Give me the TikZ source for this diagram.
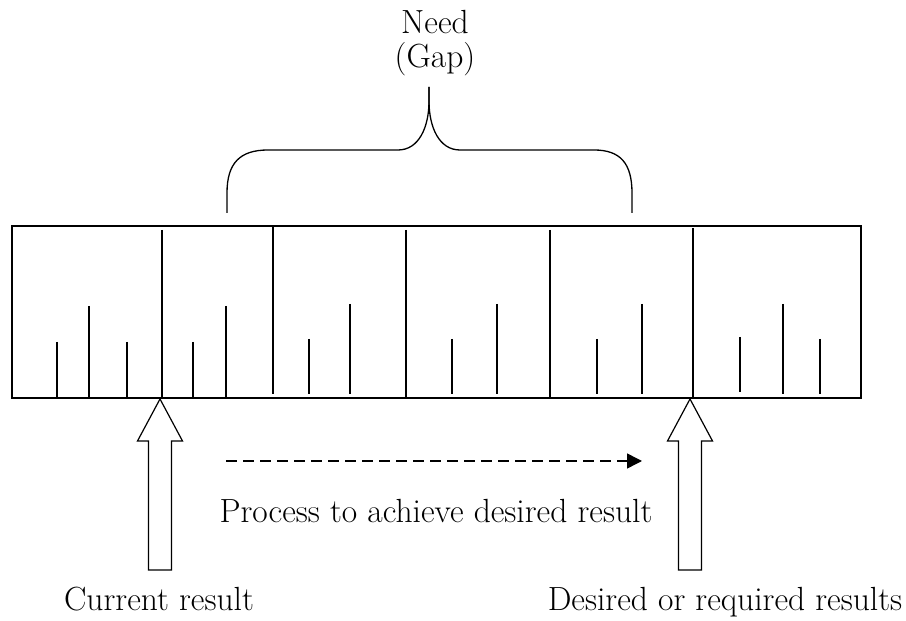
\documentclass[tikz,border=0pt]{standalone}
\usetikzlibrary{arrows.meta}
\begin{document}
\begin{tikzpicture}[x=1pt,y=1pt,
  lbl/.style={font=\fontsize{33.5}{36}\selectfont, inner sep=0pt, anchor=base},
  frame/.style={line width=1.3pt},
  tick/.style={line width=1.1pt},
  brace/.style={line width=1.3pt},
  flow/.style={line width=1.5pt, dash pattern=on 11pt off 6pt, -{Triangle[length=15pt,width=15pt]}},
  uparrow/.pic={\draw[line width=1.2pt, line join=miter]
     (-11.5,-171) -- (-11.5,-42) -- (-22.5,-42) -- (0,0) -- (22.5,-42) -- (11.5,-42) -- (11.5,-171) -- cycle;}]
\useasboundingbox (0,0) rectangle (906,621);
% ruler
\draw[frame] (12,223) rectangle (861,395);
% major lines
\foreach \x/\t/\b in {162/391/223, 273/395/227, 406/391/223, 550/391/223, 693/393/223}
  \draw[tick] (\x,\t) -- (\x,\b);
% medium ticks
\foreach \x/\t/\b in {89/315/224, 226/315/224, 350/317/227, 497/317/227, 642/317/227, 783/317/227}
  \draw[tick] (\x,\t) -- (\x,\b);
% short ticks
\foreach \x/\t/\b in {57/279/224, 127/279/224, 193/279/224, 309/282/227, 452/282/227, 597/282/227, 740/284/229, 820/282/227}
  \draw[tick] (\x,\t) -- (\x,\b);
% brace
\draw[brace] (227,408) -- (227,428) .. controls (227,458) and (240,471) .. (268,471) -- (398,471)
  .. controls (419,471) and (429,494) .. (429,520) -- (429,534);
\draw[brace] (429,534) -- (429,520) .. controls (429,494) and (439,471) .. (460,471) -- (594,471)
  .. controls (620,471) and (632,458) .. (632,428) -- (632,408);
% labels
\node[lbl] (need) at (435,587) {Need};
\node[lbl] (gap) at (435,553) {(Gap)};
\node[lbl] (proc) at (436,98) {Process to achieve desired result};
\node[lbl] (cur) at (159,10) {Current result};
\node[lbl] (des) at (725,10) {Desired or required results};
% block arrows
\coordinate (curtip) at (160,222);
\coordinate (destip) at (690,222);
\pic at (curtip) {uparrow};
\pic at (destip) {uparrow};
% process arrow
\coordinate (pstart) at (226,160);
\coordinate (pend) at (642,160);
\draw[flow] (pstart) -- (pend);
\end{tikzpicture}
\end{document}
